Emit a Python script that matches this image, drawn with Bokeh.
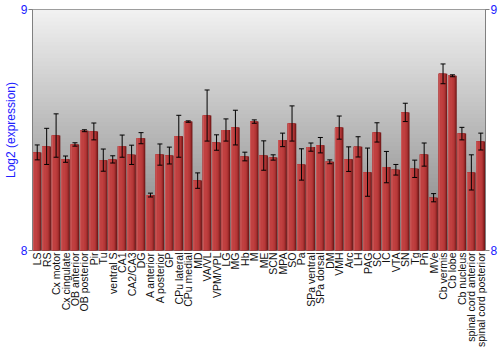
import numpy as np
from bokeh.plotting import figure
from bokeh.models import (ColumnDataSource, FactorRange, LinearAxis, FixedTicker,
                          Whisker, TeeHead, BoxAnnotation, Range1d)
from bokeh.transform import dodge
from bokeh.embed import file_html
from bokeh.resources import INLINE

regions = ["LS", "RS", "Cx motor", "Cx cingulate", "OB anterior", "OB posterior", "Pir", "Tu",
           "ventral S", "CA1", "CA2/CA3", "DG", "A anterior", "A posterior", "GP", "CPu lateral",
           "CPu medial", "MD", "VA/VL", "VPM/VPL", "LG", "MG", "Hb", "M", "ME", "SCN", "MPA",
           "SO", "Pa", "SPa ventral", "SPa dorsal", "DM", "VMH", "Arc", "LH", "PAG", "SC", "IC",
           "VTA", "SN", "Tg", "Pn", "MVe", "Cb vermis", "Cb lobe", "Cb nucleus",
           "spinal cord anterior", "spinal cord posterior"]

expression = [8.407, 8.432, 8.477, 8.379, 8.440, 8.497, 8.494, 8.375,
              8.378, 8.433, 8.397, 8.466, 8.230, 8.398, 8.394, 8.474,
              8.535, 8.290, 8.560, 8.448, 8.500, 8.510, 8.390, 8.535,
              8.394, 8.386, 8.459, 8.527, 8.357, 8.429, 8.437, 8.368,
              8.510, 8.379, 8.430, 8.325, 8.490, 8.346, 8.335, 8.573,
              8.339, 8.398, 8.219, 8.733, 8.725, 8.485, 8.324, 8.452]

std_err = [0.031, 0.075, 0.090, 0.013, 0.007, 0.004, 0.035, 0.046,
           0.015, 0.046, 0.040, 0.023, 0.008, 0.044, 0.035, 0.087,
           0.003, 0.032, 0.106, 0.032, 0.046, 0.072, 0.018, 0.007,
           0.061, 0.011, 0.028, 0.073, 0.065, 0.017, 0.032, 0.008,
           0.048, 0.051, 0.042, 0.100, 0.040, 0.065, 0.022, 0.038,
           0.036, 0.048, 0.017, 0.041, 0.004, 0.026, 0.073, 0.035]

y_ticks = [8, 9]

expr = np.array(expression)
err = np.array(std_err)
src = ColumnDataSource(dict(cat=regions, top=expr, upper=expr + err, lower=expr - err))

p = figure(width=500, height=350, x_range=FactorRange(*regions), y_range=Range1d(8, 9),
           output_backend="svg", toolbar_location=None, y_axis_location=None,
           min_border_left=0, min_border_right=0, min_border_top=9, min_border_bottom=0)
p.background_fill_color = "#808080"
p.border_fill_color = "white"
p.outline_line_color = "#808080"
p.xgrid.visible = False
p.ygrid.visible = False

# background vertical gradient (bands overlap slightly to avoid seams)
n_bands = 60
edges = np.linspace(9, 8, n_bands + 1)
c_top = np.array([0xf2, 0xf2, 0xf2])
c_bot = np.array([0x80, 0x80, 0x80])
for i in range(n_bands):
    t = (i + 0.5) / n_bands
    c = (c_top * (1 - t) + c_bot * t).astype(int)
    p.add_layout(BoxAnnotation(bottom=max(edges[i + 1] - 0.01, 8.0), top=edges[i],
                               fill_color="#%02x%02x%02x" % tuple(c), fill_alpha=1.0,
                               line_alpha=0, level="underlay"))

# bars with horizontal gradient (light left -> dark right)
total_w = 0.9
layers = [(0.90, "#6e1818"), (0.83, "#842020"), (0.76, "#9a2a2a"), (0.68, "#ad3434"),
          (0.58, "#b93a3a"), (0.42, "#c04040"), (0.12, "#c65050"), (0.05, "#cc6464")]
for w, col in layers:
    off = -total_w / 2 + w / 2
    p.vbar(x=dodge("cat", off, range=p.x_range), top="top", bottom=8, width=w,
           source=src, fill_color=col, line_color=None)

wh = Whisker(base="cat", upper="upper", lower="lower", source=src, dimension="height",
             line_color="black", line_width=1, level="overlay",
             upper_head=TeeHead(size=5, line_color="black", line_width=1),
             lower_head=TeeHead(size=5, line_color="black", line_width=1))
p.add_layout(wh)

blue = "#2020ff"
for side in ("left", "right"):
    ax = LinearAxis(ticker=FixedTicker(ticks=y_ticks))
    ax.axis_line_color = "#808080"
    ax.major_tick_line_color = "#808080"
    ax.major_tick_out = 4
    ax.major_tick_in = 0
    ax.minor_tick_line_color = None
    ax.major_label_text_color = blue
    ax.major_label_text_font = "Liberation Sans"
    ax.major_label_text_font_size = "12px"
    ax.major_label_standoff = 1
    if side == "left":
        ax.axis_label = "Log2 (expression)"
        ax.axis_label_text_color = blue
        ax.axis_label_text_font = "Liberation Sans"
        ax.axis_label_text_font_size = "12px"
        ax.axis_label_text_font_style = "normal"
        ax.axis_label_standoff = 0
    p.add_layout(ax, side)

xa = p.xaxis[0]
xa.major_label_orientation = np.pi / 2
xa.major_label_text_font = "Liberation Sans"
xa.major_label_text_font_size = "10.5px"
xa.major_label_text_color = "#111111"
xa.major_label_standoff = 2
xa.major_tick_out = 0
xa.major_tick_in = 0
xa.major_tick_line_color = None
xa.axis_line_color = None

open("out.html", "w").write(file_html(p, INLINE))
